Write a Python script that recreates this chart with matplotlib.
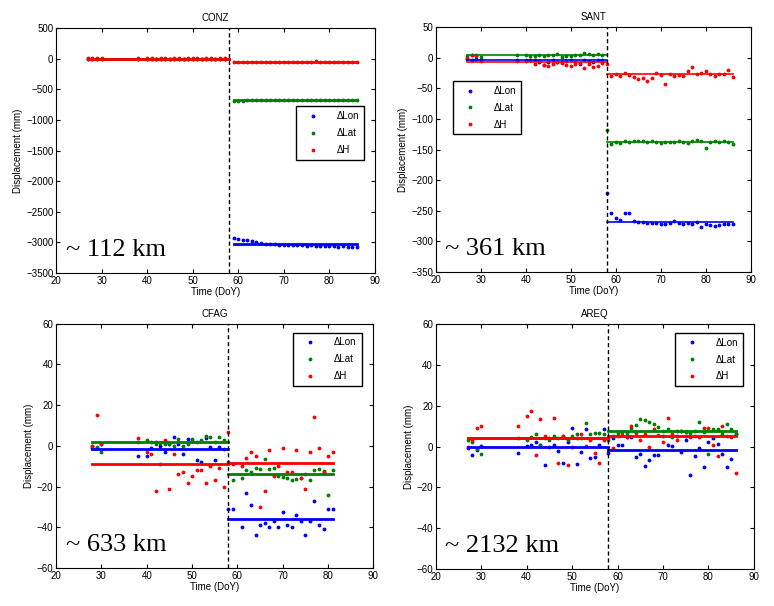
import matplotlib
matplotlib.use('Agg')
import matplotlib.pyplot as plt

plt.rcParams['font.family'] = ['Liberation Sans', 'DejaVu Sans']

# dias del año (DoY)
dias_pre = [27, 28, 29, 30, 38] + list(range(40, 58))
dias_post = list(range(58, 87))
dias_pre_cfag = [28, 29, 30, 38] + list(range(40, 58))
dias_post_cfag = [58, 59] + list(range(61, 82))

series = ['\u0394Lon', '\u0394Lat', '\u0394H']
colores = ['#0000ff', '#008000', '#ff0000']

# CONZ (~112 km)
conz_lon_pre = [2, -3, 1, 0, -2, 1, 0, -1, 2, -2, 1, 0, -1, 1, 2, -1, 0, 1, -2, 0, 1, -1, 0]
conz_lon_post = [-2930, -2950, -2960, -2965, -2975, -2990, -3010, -3020, -3025, -3030, -3040, -3045,
                 -3040, -3045, -3050, -3050, -3055, -3050, -3055, -3060, -3060, -3065, -3060, -3070,
                 -3065, -3070, -3070, -3075]
conz_lat_pre = [3, 0, -2, 1, 2, 0, 1, -1, 0, 2, -1, 1, 0, 2, -2, 0, 1, -1, 0, 2, 1, 0, -1]
conz_lat_post = [-690, -695, -685, -680, -675, -680, -678, -676, -680, -675, -678, -680, -676, -678,
                 -675, -680, -677, -675, -678, -680, -676, -675, -678, -680, -677, -675, -678, -680]
conz_h_pre = [5, 20, 15, 5, 10, 5, 12, 0, 8, 10, 0, 5, 10, 0, 8, 5, 10, 0, 5, 8, 0, 5, 10]
conz_h_post = [-55, -60, -55, -50, -55, -60, -55, -58, -52, -55, -60, -55, -50, -55, -58, -52, -55,
               -50, -35, -55, -60, -55, -52, -58, -55, -60, -55, -58]
conz_ajuste_pre = [0, 0, 0]
conz_ajuste_post = [-3030, -680, -50]

# SANT (~361 km)
sant_lon_pre = [-2, -3, -2, -4, -4, -3, -3, -4, -6, -12, -6, -4, -6, -6, -5, -4, -6, -10, -3, -5, -6, -3, -4]
sant_lon_post = [-220, -253, -261, -265, -254, -254, -267, -268, -268, -269, -270, -270, -272, -271, -270,
                 -266, -270, -272, -270, -272, -268, -277, -271, -273, -274, -273, -272, -272, -271]
sant_lat_pre = [3, 5, 3, 2, 5, 5, 3, 3, 4, 3, 5, 4, 6, 2, 3, 3, 4, 5, 8, 6, 5, 7, 5]
sant_lat_post = [-118, -140, -137, -139, -136, -137, -135, -136, -135, -138, -136, -137, -139, -138, -137,
                 -137, -136, -137, -139, -136, -134, -135, -148, -138, -136, -137, -136, -137, -140]
sant_h_pre = [0, 5, 5, -5, -5, -5, -3, -10, -5, -12, -14, -10, -7, -9, -12, -14, -10, -8, -16, -10, -15, -13, -8]
sant_h_post = [-10, -30, -26, -30, -24, -28, -32, -34, -33, -38, -33, -25, -28, -43, -26, -30, -28, -30,
               -22, -15, -27, -24, -22, -27, -30, -27, -27, -20, -32]
sant_ajuste_pre = [-4, 4, -6]
sant_ajuste_post = [-268, -138, -27]

# CFAG (~633 km)
cfag_lon_pre = [-1, -1, 1, -5, -5, -1, 2, 0, -3, 1, 4.5, 1, -4, 3.5, 2.5, -7, -8, 4, -0.5, -7, -0.5, -1.5]
cfag_lon_post = [-31, -31, -40, -23, -29, -44, -39, -38, -40, -37, -40, -32.5, -39, -40, -34, -37, -44,
                 -37, -27, -39, -41, -31, -31]
cfag_lat_pre = [0, -0.5, -3, 2, 3, 2, 1, 1.5, 1, 1.5, 0, 3.5, 0, 1, 3.5, 2, 3, 5, 4.5, 2, 4.5, 3]
cfag_lat_post = [-8, -17, -16, -12, -13, -11, -11.5, -6.5, -11.5, -11, -15, -15.5, -16, -17, -16.5, -16,
                 -14, -17, -12, -11.5, -12.5, -24, -12]
cfag_h_pre = [0, 15, 1, 4, -3, -4, -22, -9, 3, -21, -4, -14, -13, -18, -15, -12, -12, -18, -10, -17, -11, -20]
cfag_h_post = [7, -9, -10, -6, -3, -5, -30, -22, -2, -15, -10, -1, -13, -13, -2, -16, -21, -3, 14, -1,
               -13, -5, -3]
cfag_ajuste_pre = [-1.5, 2, -9]
cfag_ajuste_post = [-36, -14, -8.5]

# AREQ (~2132 km)
areq_lon_pre = [-0.5, -4, -1.5, 0.5, -3, 0.5, 1, 2, 1, -9, 0, 1, -2, -8, 2, 9, -8.5, -2.5, 8.5, -5.5, -5, 1, 8.5]
areq_lon_post = [-3, 4, 1, 1, 4.5, 4.5, -5, -3.5, -9.5, -6.5, -4, -4, 5, 1, 0.5, 5, -2.5, 3, -14, -4.5,
                 -0.5, -10, 2, 4, 1.5, -3.5, -10, -6, 6]
areq_lat_pre = [3, 2, -1, -3.5, 4, 3, 4.5, 6, 1, 4, 3, 5, 4, 5, 3, 5, 6, 4, 11.5, 6, 6.5, 6.5, 6]
areq_lat_post = [3, 5, 6.5, 7, 6.5, 9, 10.5, 13.5, 13, 12, 11, 9.5, 7.5, 8.5, 4.5, 7.5, 7.5, 7, 6.5, 7.5,
                 12, 7, -3.5, 8.5, 8.5, 6, 11, 8.5, 6]
areq_h_pre = [0, 3, 9, 10, 10, 15, 17.5, -4, 13.5, 5, 4, 14, -8, 5, -9, 0, 4, 6, 0.5, 3, -3, -8, 3]
areq_h_post = [4, -0.5, 5, 5.5, 4.5, 10, 6.5, 3, 6, 0, 8.5, 5.5, 2, 14, 6, 3, 7.5, 5, 4.5, 5, 4.5, 9, 9,
               1, -4.5, 10, 5, 4.5, -13]
areq_ajuste_pre = [0, 4, 4]
areq_ajuste_post = [-1.5, 7.8, 5]


def dibujar_panel(pos, titulo, etiqueta, d_pre, d_post, pre, post, aj_pre, aj_post,
                  ylim, yticks, ancho, leg_loc, leg_anchor, ini_linea_post=58):
    ax = fig.add_axes(pos)
    for i in range(3):
        ax.plot(d_pre, pre[i], '.', color=colores[i], markersize=3.5, label=series[i])
        ax.plot(d_post, post[i], '.', color=colores[i], markersize=3.5)
    for i in range(3):
        ax.plot([d_pre[0], 58], [aj_pre[i], aj_pre[i]], '-', color=colores[i], linewidth=ancho)
        ax.plot([ini_linea_post, d_post[-1]], [aj_post[i], aj_post[i]], '-', color=colores[i], linewidth=ancho)
    ax.axvline(58, color='k', linestyle='--', linewidth=1, dashes=(3, 2))
    ax.set_xlim(20, 90)
    ax.set_ylim(ylim)
    ax.set_xticks(range(20, 91, 10))
    ax.set_yticks(yticks)
    ax.tick_params(direction='in', top=True, right=True, length=3, labelsize=7, pad=2)
    ax.set_title(titulo, fontsize=7, pad=5)
    ax.set_xlabel('Time (DoY)', fontsize=7, labelpad=1)
    ax.set_ylabel('Displacement (mm)', fontsize=7, labelpad=2)
    leg = ax.legend(loc=leg_loc, bbox_to_anchor=leg_anchor, fontsize=7, fancybox=False,
                    edgecolor='k', framealpha=1, handlelength=2.5, handletextpad=1.2,
                    borderpad=0.5, labelspacing=0.7, markerscale=1)
    leg.get_frame().set_linewidth(1)
    ax.text(0.03, 0.07, etiqueta, transform=ax.transAxes, fontsize=19,
            family='Liberation Serif', va='baseline')
    for s in ax.spines.values():
        s.set_linewidth(0.8)
    return ax


fig = plt.figure(figsize=(7.74, 6.06), dpi=100)

dibujar_panel([0.0724, 0.5495, 0.412, 0.404], 'CONZ', '~ 112 km', dias_pre, dias_post[1:],
              [conz_lon_pre, conz_lat_pre, conz_h_pre], [conz_lon_post, conz_lat_post, conz_h_post],
              conz_ajuste_pre, conz_ajuste_post, (-3500, 500), range(-3500, 501, 500), 2,
              'upper right', (0.981, 0.70), ini_linea_post=59)

dibujar_panel([0.563, 0.5510, 0.407, 0.404], 'SANT', '~ 361 km', dias_pre, dias_post,
              [sant_lon_pre, sant_lat_pre, sant_h_pre], [sant_lon_post, sant_lat_post, sant_h_post],
              sant_ajuste_pre, sant_ajuste_post, (-350, 50), range(-350, 51, 50), 1.2,
              'upper left', (0.038, 0.80))

dibujar_panel([0.0724, 0.0627, 0.41, 0.403], 'CFAG', '~ 633 km', dias_pre_cfag, dias_post_cfag,
              [cfag_lon_pre, cfag_lat_pre, cfag_h_pre], [cfag_lon_post, cfag_lat_post, cfag_h_post],
              cfag_ajuste_pre, cfag_ajuste_post, (-60, 60), range(-60, 61, 20), 2,
              'upper right', (0.978, 0.984))

dibujar_panel([0.563, 0.0611, 0.411, 0.404], 'AREQ', '~ 2132 km', dias_pre, dias_post,
              [areq_lon_pre, areq_lat_pre, areq_h_pre], [areq_lon_post, areq_lat_post, areq_h_post],
              areq_ajuste_pre, areq_ajuste_post, (-60, 60), range(-60, 61, 20), 2,
              'upper right', (0.981, 0.984))

fig.savefig('out.png', dpi=100)
